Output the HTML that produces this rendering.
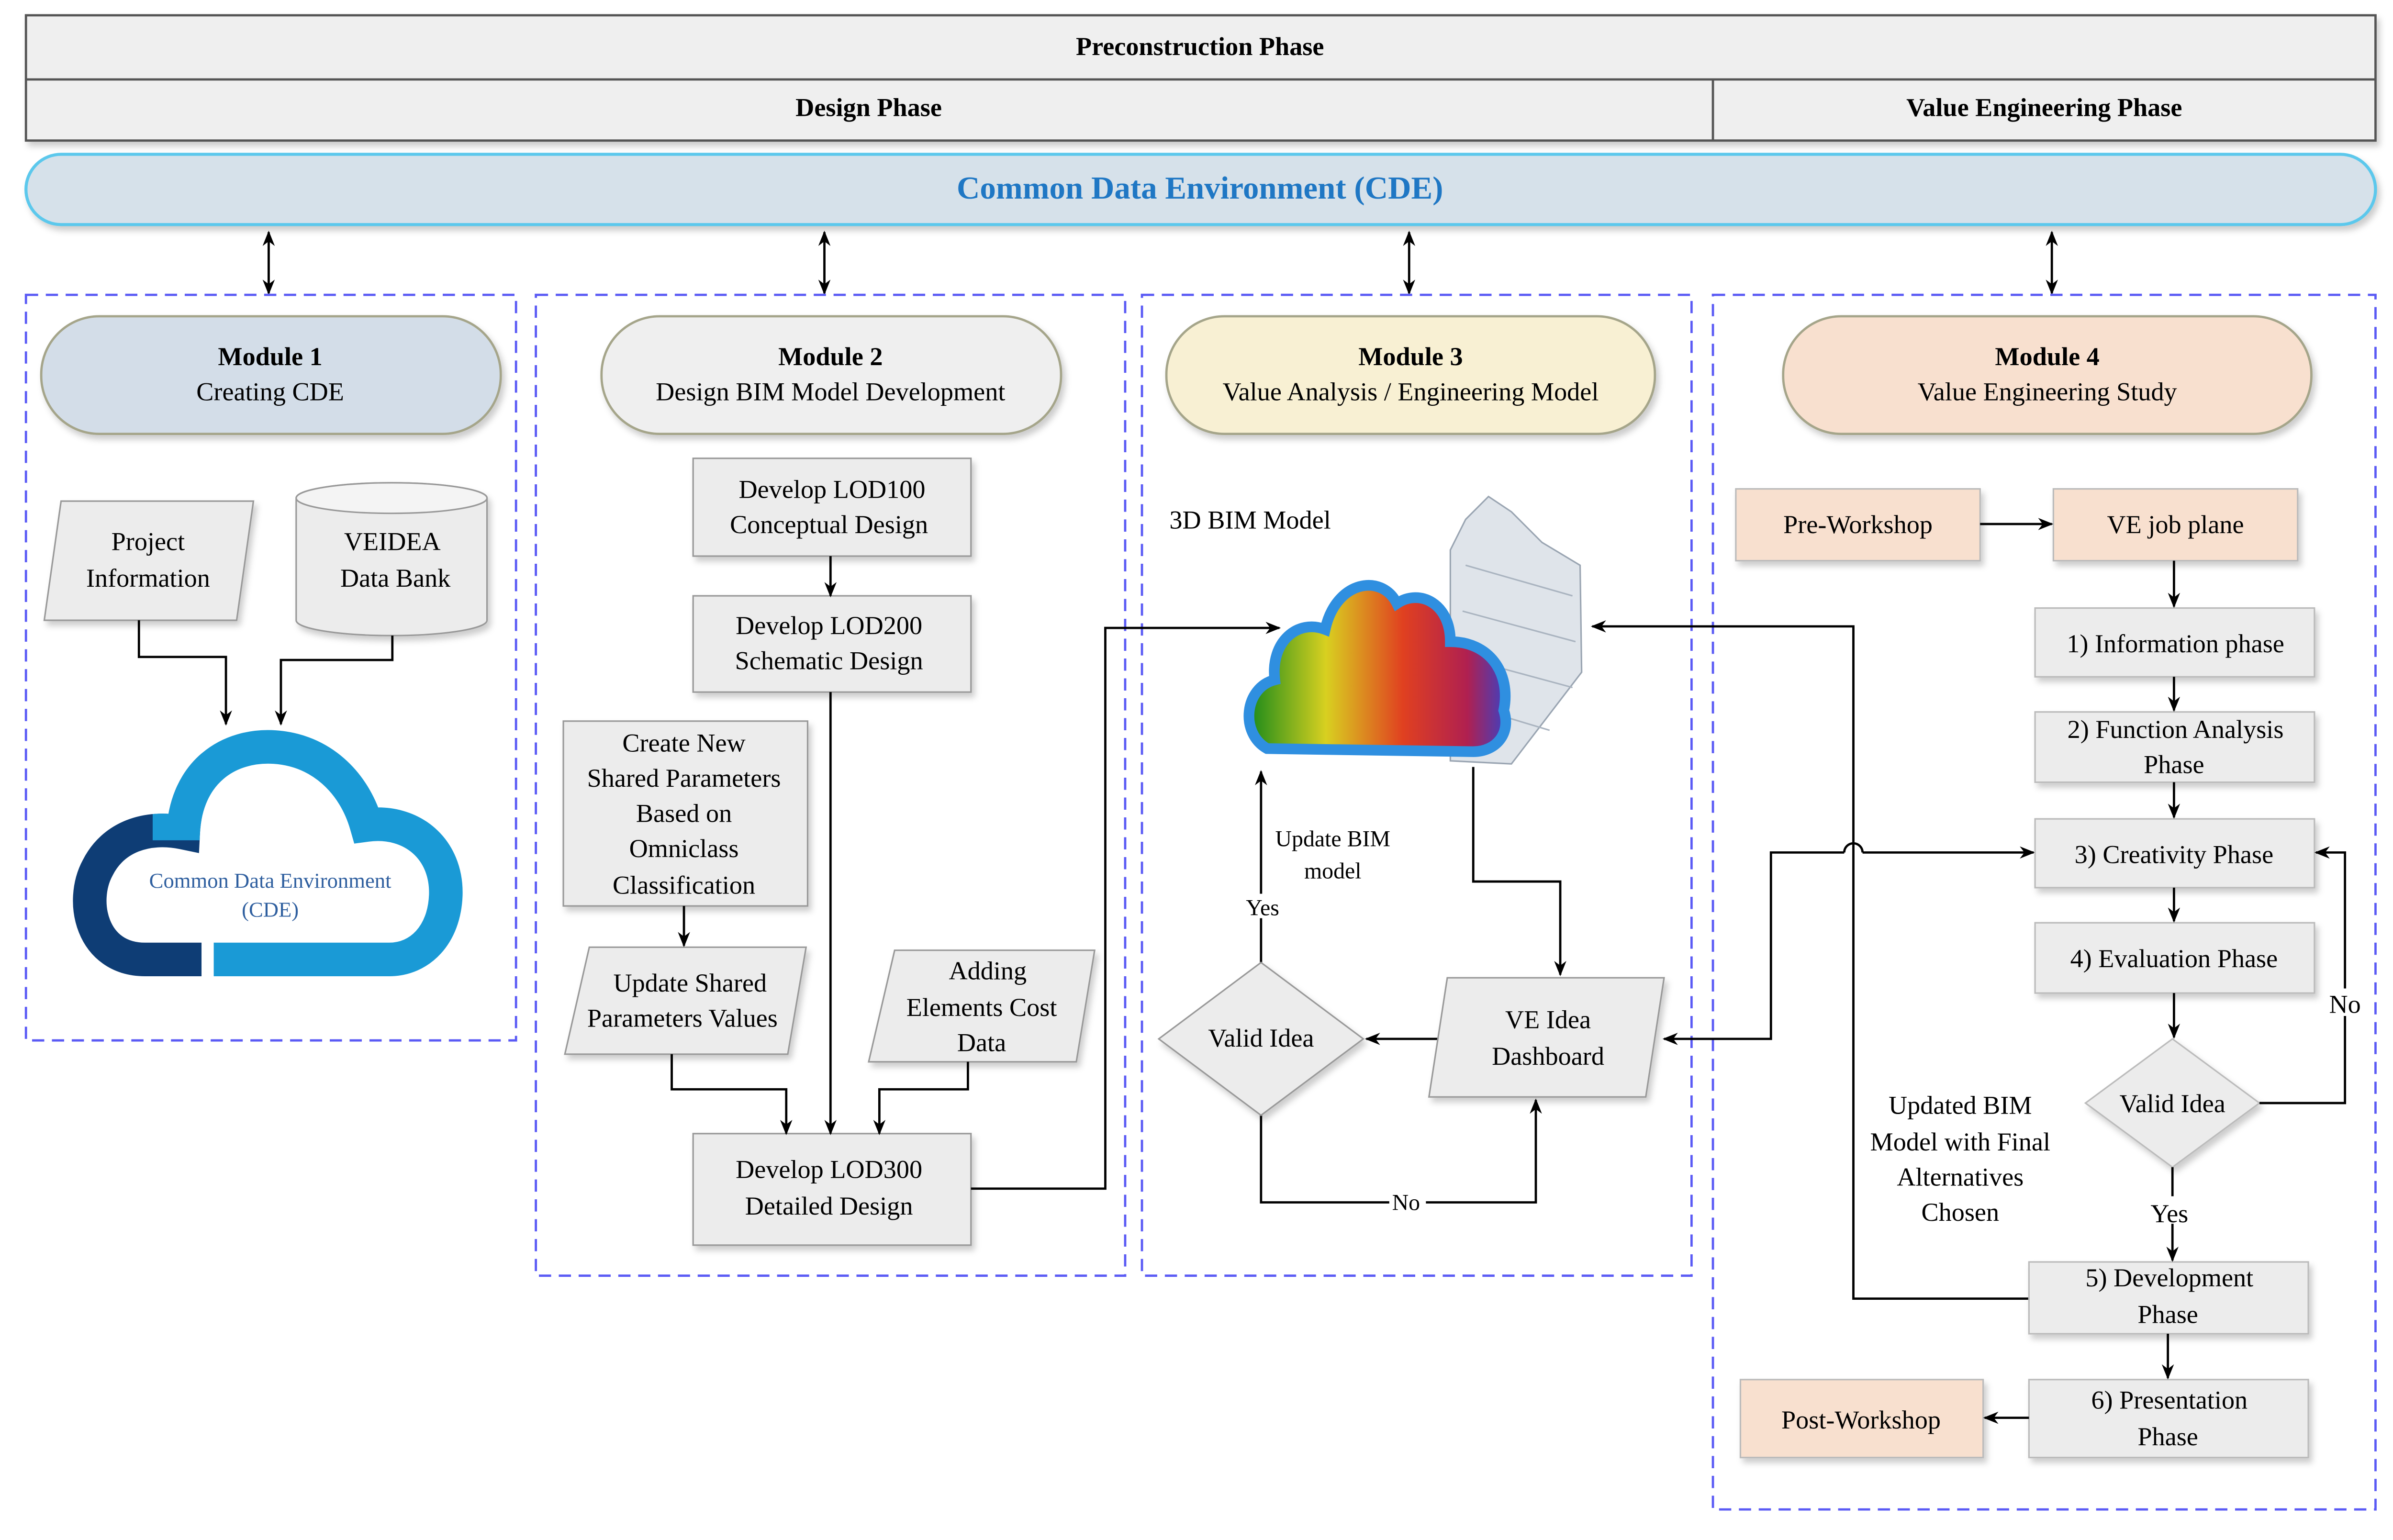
<!DOCTYPE html>
<html><head><meta charset="utf-8"><style>html,body{margin:0;padding:0;background:#fff}svg{display:block}</style></head>
<body>
<svg width="5040" height="3218" viewBox="0 0 1580 1008" preserveAspectRatio="none" xmlns="http://www.w3.org/2000/svg" font-family="'Liberation Serif', serif">
<defs>
<marker id="a" markerWidth="10" markerHeight="10" refX="9" refY="5" orient="auto" markerUnits="userSpaceOnUse"><path d="M0,1 L10,5 L0,9 L3,5 z" fill="#000"/></marker>
<marker id="s" markerWidth="10" markerHeight="10" refX="1" refY="5" orient="auto" markerUnits="userSpaceOnUse"><path d="M10,1 L0,5 L10,9 L7,5 z" fill="#000"/></marker>
<filter id="sh" x="-10%" y="-10%" width="130%" height="140%"><feDropShadow dx="2" dy="3" stdDeviation="2" flood-color="#000" flood-opacity="0.2"/></filter>
<linearGradient id="rb" x1="0" y1="0" x2="1" y2="0"><stop offset="0" stop-color="#1a8a1a"/><stop offset="0.3" stop-color="#d8d020"/><stop offset="0.6" stop-color="#e04020"/><stop offset="0.85" stop-color="#b02050"/><stop offset="1" stop-color="#4040c0"/></linearGradient>
<clipPath id="cl"><rect x="0" y="400" width="132" height="300"/></clipPath>
<clipPath id="cr"><rect x="140" y="400" width="300" height="300"/><rect x="100" y="400" width="40" height="150"/></clipPath>
</defs>
<g font-size="17" fill="#000">
<rect x="17" y="10" width="1539" height="82" fill="#efefef" stroke="#555" stroke-width="1.5" filter="url(#sh)"/>
<line x1="17" y1="52" x2="1556" y2="52" stroke="#555" stroke-width="1.5"/>
<line x1="1122" y1="52" x2="1122" y2="92" stroke="#555" stroke-width="1.5"/>
<text x="786" y="36" text-anchor="middle" font-weight="bold">Preconstruction Phase</text>
<text x="569" y="76" text-anchor="middle" font-weight="bold">Design Phase</text>
<text x="1339" y="76" text-anchor="middle" font-weight="bold">Value Engineering Phase</text>
<rect x="17" y="101" width="1539" height="46" rx="23" fill="#d6e1ea" stroke="#5bc8ec" stroke-width="2" filter="url(#sh)"/>
<text x="786" y="130" text-anchor="middle" font-weight="bold" font-size="21" fill="#1f77c4">Common Data Environment (CDE)</text>
<g stroke="#000" stroke-width="1.5">
<line x1="176" y1="152" x2="176" y2="192" marker-start="url(#s)" marker-end="url(#a)"/>
<line x1="540" y1="152" x2="540" y2="192" marker-start="url(#s)" marker-end="url(#a)"/>
<line x1="923" y1="152" x2="923" y2="192" marker-start="url(#s)" marker-end="url(#a)"/>
<line x1="1344" y1="152" x2="1344" y2="192" marker-start="url(#s)" marker-end="url(#a)"/>
</g>
<g fill="none" stroke="#5a5af5" stroke-width="1.5" stroke-dasharray="8,5">
<rect x="17" y="193" width="321" height="488"/>
<rect x="351" y="193" width="386" height="642"/>
<rect x="748" y="193" width="360" height="642"/>
<rect x="1122" y="193" width="434" height="795"/>
</g>
<g stroke="#a5a58a" stroke-width="1.5" filter="url(#sh)">
<rect x="27" y="207" width="301" height="77" rx="38" fill="#d3dde8"/>
<rect x="394" y="207" width="301" height="77" rx="38" fill="#efefef"/>
<rect x="764" y="207" width="320" height="77" rx="38" fill="#f8f0d3"/>
<rect x="1168" y="207" width="346" height="77" rx="38" fill="#f8e0cf"/>
</g>
<g text-anchor="middle">
<text x="177" y="239" font-weight="bold">Module 1</text><text x="177" y="262">Creating  CDE</text>
<text x="544" y="239" font-weight="bold">Module 2</text><text x="544" y="262">Design BIM Model Development</text>
<text x="924" y="239" font-weight="bold">Module 3</text><text x="924" y="262">Value Analysis / Engineering Model</text>
<text x="1341" y="239" font-weight="bold">Module 4</text><text x="1341" y="262">Value Engineering Study</text>
</g>
<g stroke="#999" stroke-width="1" fill="#ececec" filter="url(#sh)">
<polygon points="40,328 166,328 155,406 29,406"/>
<path d="M194,326 A62.5,10 0 0 1 319,326 L319,406 A62.5,10 0 0 1 194,406 Z"/>
</g>
<ellipse cx="256.5" cy="326" rx="62.5" ry="10" fill="#f4f4f4" stroke="#999"/>
<g text-anchor="middle"><text x="97" y="360">Project</text><text x="97" y="384">Information</text>
<text x="257" y="360">VEIDEA</text><text x="259" y="384">Data Bank</text></g>
<g fill="none" stroke="#000" stroke-width="1.5">
<polyline points="91,406 91,430 148,430 148,474" marker-end="url(#a)"/>
<polyline points="257,416 257,432 184,432 184,474" marker-end="url(#a)"/>
</g>
<path id="cld" d="M95,628 C60,628 52,590 64,568 C74,548 96,540 120,545 C122,505 150,487 180,489 C210,491 232,512 240,540 C270,536 293,556 292,586 C291,612 275,628 255,628 Z" fill="none" stroke="#0e3d75" stroke-width="22" clip-path="url(#cl)"/>
<path d="M95,628 C60,628 52,590 64,568 C74,548 96,540 120,545 C122,505 150,487 180,489 C210,491 232,512 240,540 C270,536 293,556 292,586 C291,612 275,628 255,628 Z" fill="none" stroke="#1a9ad6" stroke-width="22" clip-path="url(#cr)"/>
<text x="177" y="581" text-anchor="middle" font-size="14" fill="#2f5f9f">Common Data Environment</text>
<text x="177" y="600" text-anchor="middle" font-size="14" fill="#2f5f9f">(CDE)</text>
<g stroke="#999" stroke-width="1" fill="#ececec" filter="url(#sh)">
<rect x="454" y="300" width="182" height="64"/>
<rect x="454" y="390" width="182" height="63"/>
<rect x="369" y="472" width="160" height="121"/>
<polygon points="386,620 528,620 516,690 370,690"/>
<polygon points="586,622 717,622 705,695 569,695"/>
<rect x="454" y="742" width="182" height="73"/>
</g>
<g text-anchor="middle">
<text x="545" y="326">Develop LOD100</text><text x="543" y="349">Conceptual Design</text>
<text x="543" y="415">Develop LOD200</text><text x="543" y="438">Schematic Design</text>
<text x="448" y="492">Create New</text><text x="448" y="515">Shared Parameters</text><text x="448" y="538">Based on</text><text x="448" y="561">Omniclass</text><text x="448" y="585">Classification</text>
<text x="452" y="649">Update Shared</text><text x="447" y="672">Parameters Values</text>
<text x="647" y="641">Adding</text><text x="643" y="665">Elements Cost</text><text x="643" y="688">Data</text>
<text x="543" y="771">Develop LOD300</text><text x="543" y="795">Detailed Design</text>
</g>
<g fill="none" stroke="#000" stroke-width="1.5">
<line x1="544" y1="364" x2="544" y2="390" marker-end="url(#a)"/>
<line x1="544" y1="453" x2="544" y2="742" marker-end="url(#a)"/>
<line x1="448" y1="593" x2="448" y2="619" marker-end="url(#a)"/>
<polyline points="440,690 440,713 515,713 515,742" marker-end="url(#a)"/>
<polyline points="634,695 634,713 576,713 576,742" marker-end="url(#a)"/>
<polyline points="636,778 724,778 724,411 838,411" marker-end="url(#a)"/>
</g>
<text x="766" y="346">3D BIM Model</text>
<g>
<path d="M960,340 L975,325 L990,335 L1010,355 L1035,370 L1036,440 L990,500 L950,498 L950,360 Z" fill="#dfe4ea" stroke="#9aa5b2"/>
<g stroke="#aab4c0" stroke-width="1"><line x1="960" y1="370" x2="1030" y2="390"/><line x1="958" y1="400" x2="1032" y2="420"/><line x1="956" y1="430" x2="1030" y2="450"/><line x1="955" y1="460" x2="1015" y2="478"/></g>
<path d="M830,490 C812,480 815,450 835,445 C832,420 850,405 868,412 C875,380 905,375 915,395 C930,385 950,395 950,420 C975,420 990,440 985,465 C990,480 980,492 965,492 Z" fill="url(#rb)" stroke="#2f8fe0" stroke-width="7"/>
</g>
<g fill="none" stroke="#000" stroke-width="1.5">
<polyline points="1329,850 1214,850 1214,410 1043,410" marker-end="url(#a)"/>
<polyline points="965,502 965,577 1022,577 1022,638" marker-end="url(#a)"/>
<line x1="946" y1="680" x2="895" y2="680" marker-end="url(#a)"/>
<line x1="826" y1="630" x2="826" y2="505" marker-end="url(#a)"/>
<polyline points="826,730 826,787 1006,787 1006,720" marker-end="url(#a)"/>
<polyline points="1090,680 1160,680 1160,558 1208,558" marker-start="url(#s)"/>
<path d="M1208,558 A6,6 0 0 1 1220,558"/>
<line x1="1220" y1="558" x2="1332" y2="558" marker-end="url(#a)"/>
</g>
<g stroke="#999" stroke-width="1" fill="#ececec" filter="url(#sh)">
<polygon points="948,640 1090,640 1078,718 936,718"/>
<polygon points="826,630 893,680 826,730 759,680"/>
</g>
<g text-anchor="middle">
<text x="1014" y="673">VE Idea</text><text x="1014" y="697">Dashboard</text>
<text x="826" y="685">Valid Idea</text>
<text x="873" y="554" font-size="15">Update BIM</text><text x="873" y="575" font-size="15">model</text>
<rect x="814" y="585" width="26" height="16" fill="#fff"/><text x="827" y="599" font-size="15">Yes</text>
<rect x="910" y="779" width="24" height="16" fill="#fff"/><text x="921" y="792" font-size="15">No</text>
</g>
<g stroke="#bbb" stroke-width="1" filter="url(#sh)">
<rect x="1137" y="320" width="160" height="47" fill="#f8e0cf"/>
<rect x="1345" y="320" width="160" height="47" fill="#f8e0cf"/>
<rect x="1333" y="398" width="183" height="45" fill="#ececec"/>
<rect x="1333" y="466" width="183" height="46" fill="#ececec"/>
<rect x="1333" y="536" width="183" height="45" fill="#ececec"/>
<rect x="1333" y="604" width="183" height="46" fill="#ececec"/>
<polygon points="1423,680 1480,722 1423,764 1366,722" fill="#ececec"/>
<rect x="1329" y="826" width="183" height="47" fill="#ececec"/>
<rect x="1329" y="903" width="183" height="51" fill="#ececec"/>
<rect x="1140" y="903" width="159" height="51" fill="#f8e0cf"/>
</g>
<g text-anchor="middle">
<text x="1217" y="349">Pre-Workshop</text>
<text x="1425" y="349">VE job plane</text>
<text x="1425" y="427">1) Information phase</text>
<text x="1425" y="483">2) Function Analysis</text><text x="1424" y="506">Phase</text>
<text x="1424" y="565">3) Creativity  Phase</text>
<text x="1424" y="633">4) Evaluation Phase</text>
<text x="1423" y="728">Valid Idea</text>
<text x="1421" y="842">5) Development</text><text x="1420" y="866">Phase</text>
<text x="1421" y="922">6) Presentation</text><text x="1420" y="946">Phase</text>
<text x="1219" y="935">Post-Workshop</text>
<text x="1284" y="729">Updated BIM</text><text x="1284" y="753">Model with Final</text><text x="1284" y="776">Alternatives</text><text x="1284" y="799">Chosen</text>
</g>
<g fill="none" stroke="#000" stroke-width="1.5">
<line x1="1297" y1="343" x2="1344" y2="343" marker-end="url(#a)"/>
<line x1="1424" y1="367" x2="1424" y2="397" marker-end="url(#a)"/>
<line x1="1424" y1="443" x2="1424" y2="465" marker-end="url(#a)"/>
<line x1="1424" y1="512" x2="1424" y2="535" marker-end="url(#a)"/>
<line x1="1424" y1="581" x2="1424" y2="603" marker-end="url(#a)"/>
<line x1="1424" y1="650" x2="1424" y2="679" marker-end="url(#a)"/>
<line x1="1423" y1="764" x2="1423" y2="825" marker-end="url(#a)"/>
<line x1="1420" y1="873" x2="1420" y2="902" marker-end="url(#a)"/>
<line x1="1329" y1="928" x2="1300" y2="928" marker-end="url(#a)"/>
<polyline points="1480,722 1536,722 1536,558 1517,558" marker-end="url(#a)"/>
</g>
<rect x="1408" y="783" width="28" height="18" fill="#fff"/><text x="1421" y="800" text-anchor="middle">Yes</text>
<rect x="1524" y="647" width="24" height="18" fill="#fff"/><text x="1536" y="663" text-anchor="middle">No</text>
</g>
</svg>
</body></html>
